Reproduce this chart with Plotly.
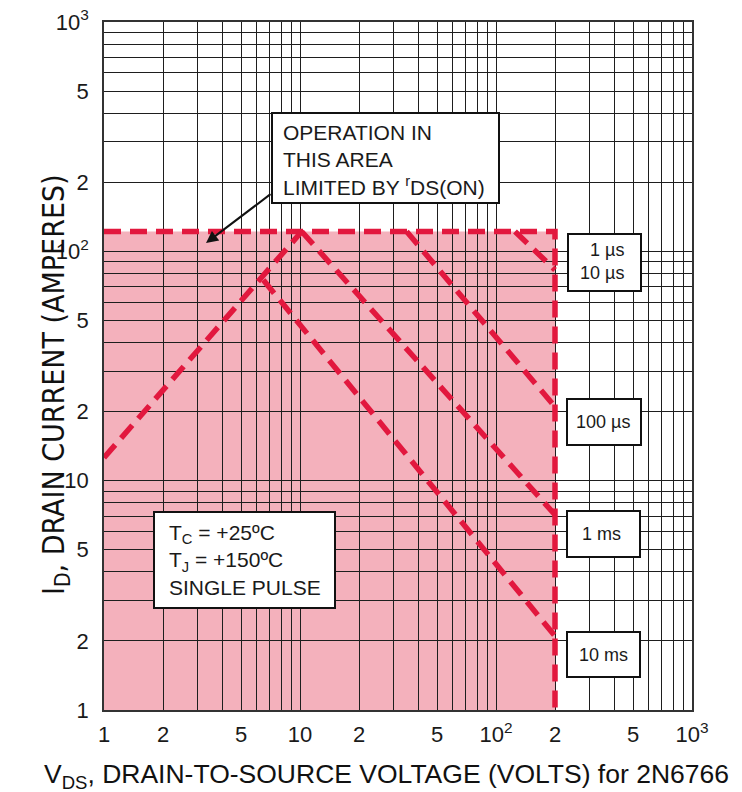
import plotly.graph_objects as go

# ---- data ----
vds_max = 200.0          # V, vertical limit
id_max = 122.0           # A, horizontal limit
x_min, y_min = 1.0, 1.0

rds_v = [1.0, 10.2]
rds_i = [12.6, 122.0]

p10ms_v = [6.5, 200.0]
p10ms_i = [75.0, 2.1]

p1ms_v = [10.2, 200.0]
p1ms_i = [122.0, 7.1]

p100us_v = [35.0, 200.0]
p100us_i = [122.0, 21.0]

p10us_v = [125.0, 200.0]
p10us_i = [122.0, 83.0]

limit_v = [x_min, vds_max, vds_max]
limit_i = [id_max, id_max, y_min]

decades = [1, 10, 100]
tick_vals = [d * k for d in decades for k in range(1, 10)] + [1000]
label_map = {1: "1", 2: "2", 5: "5", 10: "10", 20: "2", 50: "5",
             100: "10<sup>2</sup>", 200: "2", 500: "5", 1000: "10<sup>3</sup>"}
tick_text = [label_map.get(v, "") for v in tick_vals]

RED = "#E2183E"
PINK = "#F4B1BC"
FONT = "Liberation Sans, Arial, sans-serif"
INK = "#1a1a1a"

fig = go.Figure()

dash = "17px,9px"
for xs, ys in [(limit_v, limit_i), (rds_v, rds_i), (p10ms_v, p10ms_i),
               (p1ms_v, p1ms_i), (p100us_v, p100us_i), (p10us_v, p10us_i)]:
    fig.add_trace(go.Scatter(x=xs, y=ys, mode="lines",
                             line=dict(color=RED, width=5.5, dash=dash),
                             hoverinfo="skip", showlegend=False))

fig.add_shape(type="rect", xref="x", yref="y", x0=x_min, x1=vds_max,
              y0=y_min, y1=id_max, fillcolor=PINK, line=dict(width=0),
              layer="below")

axis_common = dict(type="log", tickvals=tick_vals, ticktext=tick_text,
                   showgrid=True, gridcolor="#1e1e1e", gridwidth=1.3,
                   showline=True, linecolor="#333", linewidth=1.5, mirror=True,
                   ticks="", tickfont=dict(family=FONT, size=22, color=INK),
                   ticklabeloverflow="allow", automargin=False, zeroline=False)

fig.update_xaxes(range=[0, 3], ticklabelstandoff=4, **axis_common)
fig.update_yaxes(range=[0, 3], ticklabelstandoff=9, **axis_common)


# page-pixel -> paper helpers (plot area spans x 104..692, y 22..710 on the page)
def px(xp):
    return (xp - 104) / 588.0


def py(yp):
    return (710 - yp) / 688.0


def box(x0, y0, x1, y1):
    fig.add_shape(type="rect", xref="paper", yref="paper",
                  x0=px(x0), x1=px(x1), y0=py(y1), y1=py(y0),
                  fillcolor="white", line=dict(color="#111", width=2),
                  layer="above")


def text(x, y, s, size, xanchor="center", align="center"):
    fig.add_annotation(xref="paper", yref="paper", x=px(x), y=py(y),
                       xanchor=xanchor, yanchor="middle", align=align,
                       showarrow=False, text=s,
                       font=dict(family=FONT, size=size, color=INK))


box(272, 113, 499, 203)
text(281, 160, "OPERATION IN<br>THIS AREA<br>LIMITED BY <sup>r</sup>DS(ON)", 21,
     xanchor="left", align="left")

box(568, 234, 641, 291)
text(626, 261, "1 µs<br>10 µs", 18, xanchor="right", align="right")

box(567, 399, 641, 445)
text(603, 422, "100 µs", 18)

box(567, 511, 640, 557)
text(601, 534, "1 ms", 18)

box(567, 632, 640, 677)
text(603, 655, "10 ms", 18)

box(154, 512, 335, 608)
text(167, 560, "T<sub>C</sub> = +25ºC<br>T<sub>J</sub> = +150ºC<br>SINGLE PULSE", 21,
     xanchor="left", align="left")

# arrow
fig.add_annotation(xref="paper", yref="paper", x=px(206), y=py(243), ax=66, ay=-50,
                   text="", showarrow=True, arrowhead=2, arrowsize=1.2,
                   arrowwidth=2, arrowcolor="#111")

# axis titles
fig.add_annotation(xref="paper", yref="paper", x=px(386), y=py(776), showarrow=False,
                   xanchor="center", yanchor="middle",
                   text="V<sub>DS</sub>, DRAIN-TO-SOURCE VOLTAGE (VOLTS) for 2N6766",
                   font=dict(family=FONT, size=26.5, color="#111"))
fig.add_annotation(xref="paper", yref="paper", x=px(56), y=py(385), showarrow=False,
                   xanchor="center", yanchor="middle", textangle=-90,
                   text="I<sub>D</sub>, DRAIN CURRENT (AMPERES)",
                   font=dict(family="Liberation Sans Narrow, DejaVu Sans Condensed, Liberation Sans",
                             size=30, color="#111"))

fig.update_layout(width=742, height=792, margin=dict(l=104, r=50, t=22, b=82),
                  paper_bgcolor="white", plot_bgcolor="white", showlegend=False)

fig.write_html("out.html", config={"displayModeBar": False},
               post_script="document.body.style.margin='0';document.body.style.overflow='hidden';")
